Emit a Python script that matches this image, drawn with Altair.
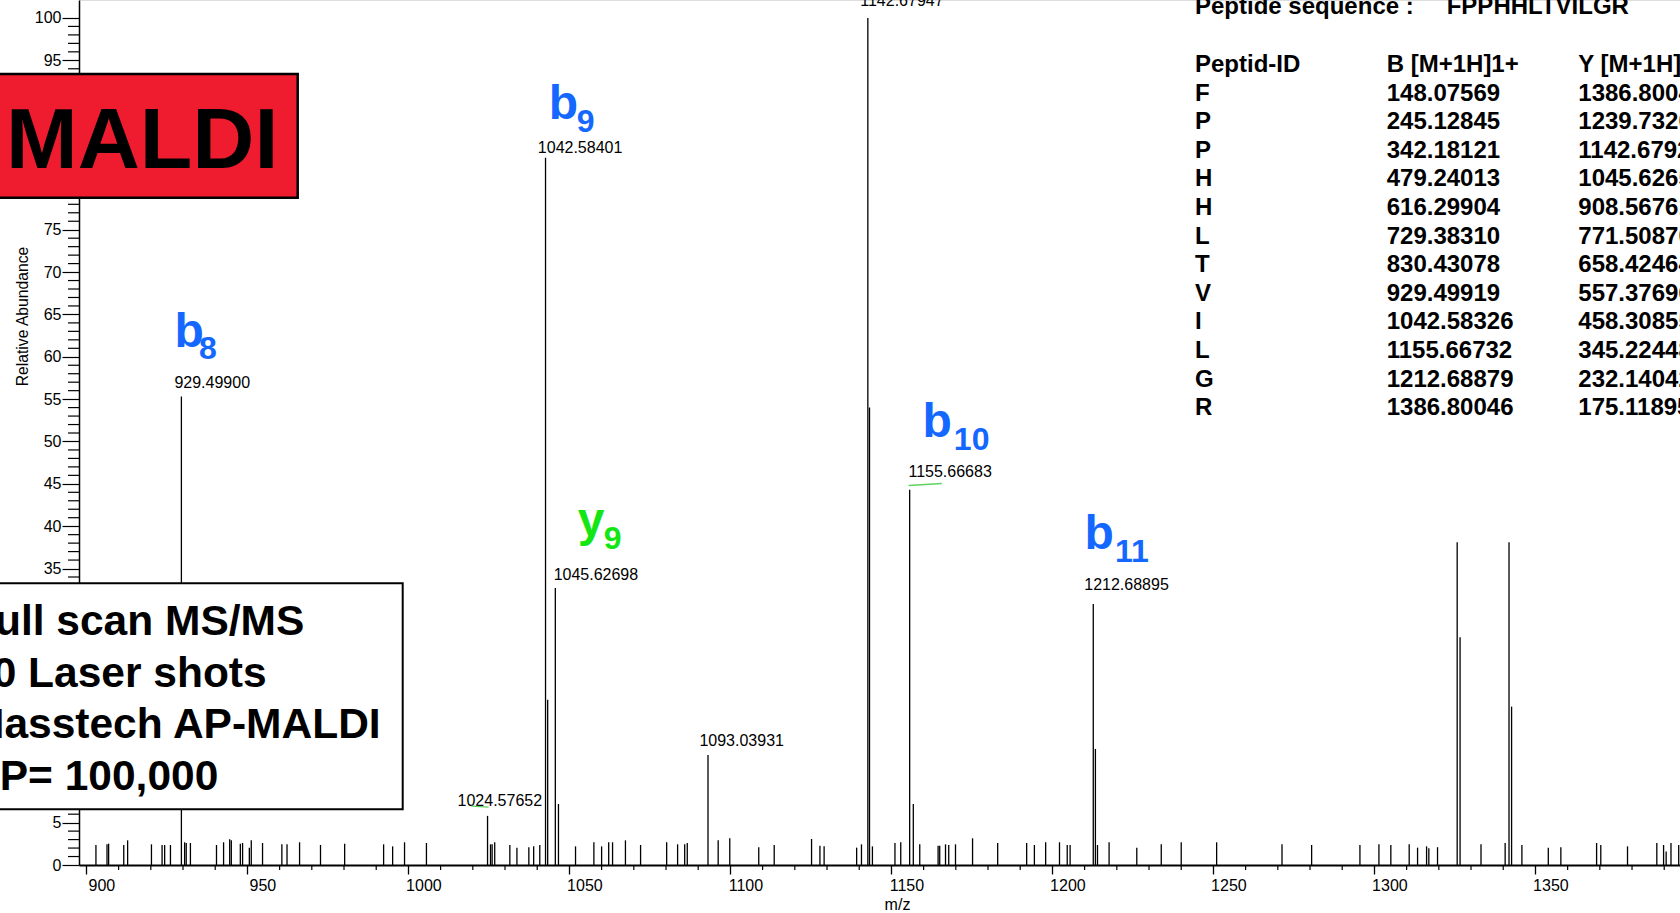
import altair as alt
import pandas as pd

# ---------------- data ----------------
# large / annotated peaks (m/z, relative abundance %)
main_mz = [929.49900, 1024.57652, 1042.58401, 1043.25, 1045.62698, 1046.6,
           1093.03931, 1142.67947, 1143.2, 1155.66683, 1156.8, 1212.68895,
           1213.35, 1325.7, 1326.6, 1341.8, 1342.6]
main_int = [55.3, 5.8, 83.5, 19.5, 32.7, 7.2,
            13.0, 100.0, 54.0, 44.3, 7.2, 30.8,
            13.7, 38.1, 26.9, 38.1, 18.7]

# small noise peaks
noise_mz = [902.96, 906.4, 906.9, 911.6, 912.8, 920.2, 923.5, 924.3, 926.1, 930.5,
            931.0, 932.3, 940.4, 942.6, 944.5, 945.0, 947.8, 948.5, 950.6, 951.2,
            954.7, 960.7, 962.3, 966.2, 972.7, 980.2, 992.3, 995.1, 998.8, 1005.6,
            1025.5, 1026.0, 1026.8, 1031.5, 1033.7, 1037.4, 1038.9, 1040.8, 1051.9,
            1057.6, 1060.0, 1062.2, 1063.4, 1067.4, 1072.1, 1080.2, 1083.6, 1085.8,
            1086.6, 1096.2, 1099.8, 1108.8, 1113.6, 1125.2, 1127.8, 1129.1, 1139.2,
            1140.7, 1144.1, 1151.1, 1152.9, 1158.8, 1164.5, 1165.0, 1166.8, 1167.8,
            1169.9, 1175.2, 1183.0, 1192.0, 1194.4, 1197.9, 1202.2, 1204.6, 1205.5,
            1214.0, 1217.6, 1226.2, 1233.8, 1240.0, 1251.0, 1271.3, 1280.5, 1295.5,
            1301.4, 1305.1, 1310.8, 1313.4, 1316.2, 1316.9, 1319.6, 1333.1, 1340.6,
            1345.8, 1354.0, 1357.9, 1369.0, 1370.3, 1378.6, 1387.7, 1389.8, 1390.6,
            1392.1, 1394.5]
noise_int = [2.36, 2.44, 2.52, 2.36, 2.91, 2.44, 2.36, 2.36, 2.36, 2.68,
             2.6, 2.6, 2.36, 2.68, 3.03, 2.91, 2.52, 2.6, 2.05, 2.91,
             2.6, 2.44, 2.44, 2.68, 2.36, 2.52, 2.44, 2.2, 2.68, 2.6,
             2.44, 2.44, 2.68, 2.36, 2.05, 2.1, 2.2, 2.36, 2.2,
             2.68, 2.2, 2.68, 2.68, 2.91, 2.36, 2.68, 2.44, 2.44,
             2.6, 2.91, 3.15, 2.1, 2.36, 3.07, 2.28, 2.2, 2.05,
             2.44, 2.2, 2.6, 2.68, 2.44, 2.28, 2.28, 2.44, 2.36,
             2.44, 3.15, 2.6, 2.6, 2.36, 2.68, 2.68, 2.36, 2.36,
             2.36, 2.68, 2.05, 2.44, 2.68, 2.68, 2.44, 2.36, 2.36,
             2.44, 2.36, 2.44, 2.05, 2.2, 1.97, 2.1, 2.44, 2.6,
             2.36, 2.05, 2.1, 2.6, 2.36, 2.2, 2.6, 2.36, 1.6,
             2.6, 2.36]

# labelled peaks
label_mz = [929.49900, 1024.57652, 1042.58401, 1045.62698, 1093.03931,
            1142.67947, 1155.66683, 1212.68895]
label_int = [55.3, 5.8, 83.5, 32.7, 13.0, 100.0, 44.3, 30.8]
label_text = ["929.49900", "1024.57652", "1042.58401", "1045.62698", "1093.03931",
              "1142.67947", "1155.66683", "1212.68895"]

# fragment ion annotations
ion_letter = ["b", "b", "y", "b", "b"]
ion_sub = ["8", "9", "9", "10", "11"]
ion_mz = [929.49900, 1042.58401, 1045.62698, 1155.66683, 1212.68895]
ion_int = [55.3, 83.5, 32.7, 44.3, 30.8]
ion_kind = ["b", "b", "y", "b", "b"]

# axis ticks
x_major = [900, 950, 1000, 1050, 1100, 1150, 1200, 1250, 1300, 1350]
x_minor = [v for v in range(900, 1395, 10) if v % 50 != 0]
y_major = list(range(0, 101, 5))
y_minor = [v for v in range(0, 101) if v % 5 != 0]

# fragment table
peptide_sequence = "FPPHHLTVILGR"
table_id = ["F", "P", "P", "H", "H", "L", "T", "V", "I", "L", "G", "R"]
table_b = ["148.07569", "245.12845", "342.18121", "479.24013", "616.29904", "729.38310",
           "830.43078", "929.49919", "1042.58326", "1155.66732", "1212.68879", "1386.80046"]
table_y = ["1386.80046", "1239.73205", "1142.67929", "1045.62653", "908.56761", "771.50870",
           "658.42464", "557.37696", "458.30855", "345.22448", "232.14042", "175.11895"]

info_lines = ["Full scan MS/MS", "10 Laser shots", "Masstech AP-MALDI", "RP= 100,000"]

# ---------------- layout / style ----------------
FONT = "Liberation Sans"
W, H = 1601, 865
LEFT = 79
BLUE = "#1467ff"
GREEN = "#14e614"
RED = "#ee1c2e"

label_dx = [-7, -30, -7.7, -1.7, -8.6, -7.6, -1.2, -9]
label_dy = [-9, -10, -5, -8, -9, -11.5, -12.6, -13.7]
ion_dx = [-6.8, 3.1, 22.4, 12.9, -8.8]
ion_dy = [-49.4, -38.5, -52, -52.6, -54.7]
sub_dx = [17.7, 31.3, 48.4, 44.2, 21.7]
sub_dy = [-37.4, -25.5, -39, -39.6, -41.8]

xscale = alt.Scale(domain=[897.7, 1394.9], nice=False, zero=False)
yscale = alt.Scale(domain=[0, 102.12], nice=False, zero=False)

xaxis = alt.Axis(values=x_major, format="d", tickSize=9, tickWidth=1.3, tickColor="black",
                 domainColor="black", domainWidth=2, labelFontSize=16, labelFont=FONT,
                 labelColor="black", labelOffset=15, labelPadding=3, grid=False,
                 title="m/z", titleFont=FONT, titleFontSize=16, titleFontWeight="normal",
                 titleColor="black", titleX=818, titleY=44, titleBaseline="alphabetic",
                 labelFlush=False, labelOverlap=False)
yaxis = alt.Axis(values=y_major, format="d", tickSize=17, tickWidth=1.2, tickColor="black",
                 domainColor="black", domainWidth=1.5, labelFontSize=16, labelFont=FONT,
                 labelColor="black", labelPadding=1, grid=False, labelFlush=False,
                 labelOverlap=False,
                 title="Relative Abundance", titleFont=FONT, titleFontSize=15.7,
                 titleFontWeight="normal", titleColor="black", titleX=-57, titleY=316,
                 titleAngle=270, titleAlign="center", titleBaseline="middle")

peaks = pd.DataFrame({"mz": main_mz + noise_mz, "v": main_int + noise_int})
peaks["v0"] = 0.0

layers = []
layers.append(
    alt.Chart(peaks).mark_rule(color="black", strokeWidth=1.3).encode(
        x=alt.X("mz:Q", scale=xscale, axis=xaxis),
        y=alt.Y("v0:Q", scale=yscale, axis=yaxis),
        y2="v:Q",
    )
)

# minor ticks
xm = pd.DataFrame({"mz": x_minor})
layers.append(
    alt.Chart(xm).mark_rule(color="black", strokeWidth=1.2).encode(
        x=alt.X("mz:Q", scale=xscale, axis=xaxis),
        y=alt.value(H), y2=alt.value(H + 5),
    )
)
ym = pd.DataFrame({"v0": y_minor})
layers.append(
    alt.Chart(ym).mark_rule(color="black", strokeWidth=1.2).encode(
        y=alt.Y("v0:Q", scale=yscale, axis=yaxis),
        x=alt.value(-11), x2=alt.value(0),
    )
)

# peak value labels
labels = pd.DataFrame({"mz": label_mz, "v0": label_int, "t": label_text})
for i in range(len(label_mz)):
    layers.append(
        alt.Chart(labels.iloc[[i]]).mark_text(
            font=FONT, fontSize=16, color="black", align="left", baseline="alphabetic",
            dx=label_dx[i], dy=label_dy[i]
        ).encode(
            x=alt.X("mz:Q", scale=xscale, axis=xaxis),
            y=alt.Y("v0:Q", scale=yscale, axis=yaxis),
            text="t:N",
        )
    )

# ion annotations
ions = pd.DataFrame({"mz": ion_mz, "v0": ion_int, "l": ion_letter, "s": ion_sub, "k": ion_kind})
for i in range(len(ion_mz)):
    col = GREEN if ion_kind[i] == "y" else BLUE
    row = ions.iloc[[i]]
    layers.append(
        alt.Chart(row).mark_text(
            font=FONT, fontSize=48, fontWeight="bold", color=col, align="left",
            baseline="alphabetic", dx=ion_dx[i], dy=ion_dy[i]
        ).encode(
            x=alt.X("mz:Q", scale=xscale, axis=xaxis),
            y=alt.Y("v0:Q", scale=yscale, axis=yaxis),
            text="l:N",
        )
    )
    layers.append(
        alt.Chart(row).mark_text(
            font=FONT, fontSize=32, fontWeight="bold", color=col, align="left",
            baseline="alphabetic", dx=sub_dx[i], dy=sub_dy[i]
        ).encode(
            x=alt.X("mz:Q", scale=xscale, axis=xaxis),
            y=alt.Y("v0:Q", scale=yscale, axis=yaxis),
            text="s:N",
        )
    )

# small green underline marks
uline = pd.DataFrame({"k": [0]})
layers.append(
    alt.Chart(uline).mark_rule(color="#5fd35f", strokeWidth=1.3).encode(
        x=alt.value(908.6 - LEFT), x2=alt.value(941.8 - LEFT),
        y=alt.value(485.5), y2=alt.value(483.5),
    )
)
layers.append(
    alt.Chart(uline).mark_rule(color="#5fd35f", strokeWidth=1.3).encode(
        x=alt.value(471.4 - LEFT), x2=alt.value(488.6 - LEFT),
        y=alt.value(806.2), y2=alt.value(807.2),
    )
)

# MALDI box
box = pd.DataFrame({"t": ["MALDI"]})
layers.append(
    alt.Chart(box).mark_rect(fill=RED, stroke="black", strokeWidth=2.5).encode(
        x=alt.value(-120), x2=alt.value(297.7 - LEFT),
        y=alt.value(74), y2=alt.value(197.7),
    )
)
layers.append(
    alt.Chart(box).mark_text(font=FONT, fontSize=86, fontWeight="bold", color="black",
                             align="center", baseline="alphabetic").encode(
        x=alt.value(142.2 - LEFT), y=alt.value(168.3), text="t:N"
    )
)

# info box
layers.append(
    alt.Chart(pd.DataFrame({"k": [0]})).mark_rect(fill="white", stroke="black", strokeWidth=2).encode(
        x=alt.value(-200), x2=alt.value(402.7 - LEFT),
        y=alt.value(583.3), y2=alt.value(809.3),
    )
)
layers.append(
    alt.Chart(pd.DataFrame({"t": ["\n".join(info_lines)]})).mark_text(
        font=FONT, fontSize=42.5, fontWeight="bold", color="black", align="left",
        baseline="alphabetic", lineBreak="\n", lineHeight=51.7
    ).encode(x=alt.value(-31 - LEFT), y=alt.value(635), text="t:N")
)

# table
TX = [1195 - LEFT, 1386.7 - LEFT, 1578.3 - LEFT]
def tline(txt, x, y):
    return alt.Chart(pd.DataFrame({"t": [txt]})).mark_text(
        font=FONT, fontSize=24, fontWeight="bold", color="black", align="left",
        baseline="alphabetic", lineBreak="\n", lineHeight=28.6
    ).encode(x=alt.value(x), y=alt.value(y), text="t:N")

layers.append(tline("Peptide sequence :", TX[0], 14))
layers.append(tline(peptide_sequence, 1446.7 - LEFT, 14))
layers.append(tline("Peptid-ID", TX[0], 71.7))
layers.append(tline("B [M+1H]1+", TX[1], 71.7))
layers.append(tline("Y [M+1H]1+", TX[2], 71.7))
for col_vals, x in zip([table_id, table_b, table_y], TX):
    layers.append(tline("\n".join(col_vals), x, 100.7))

chart = alt.layer(*layers).properties(
    width=W, height=H,
    autosize=alt.AutoSizeParams(type="none"),
    padding={"left": LEFT, "top": 0, "right": 0, "bottom": 913 - H},
).configure_view(stroke=None).configure(background="white")

chart.save("out.html", embed_options={"renderer": "svg", "actions": False})
